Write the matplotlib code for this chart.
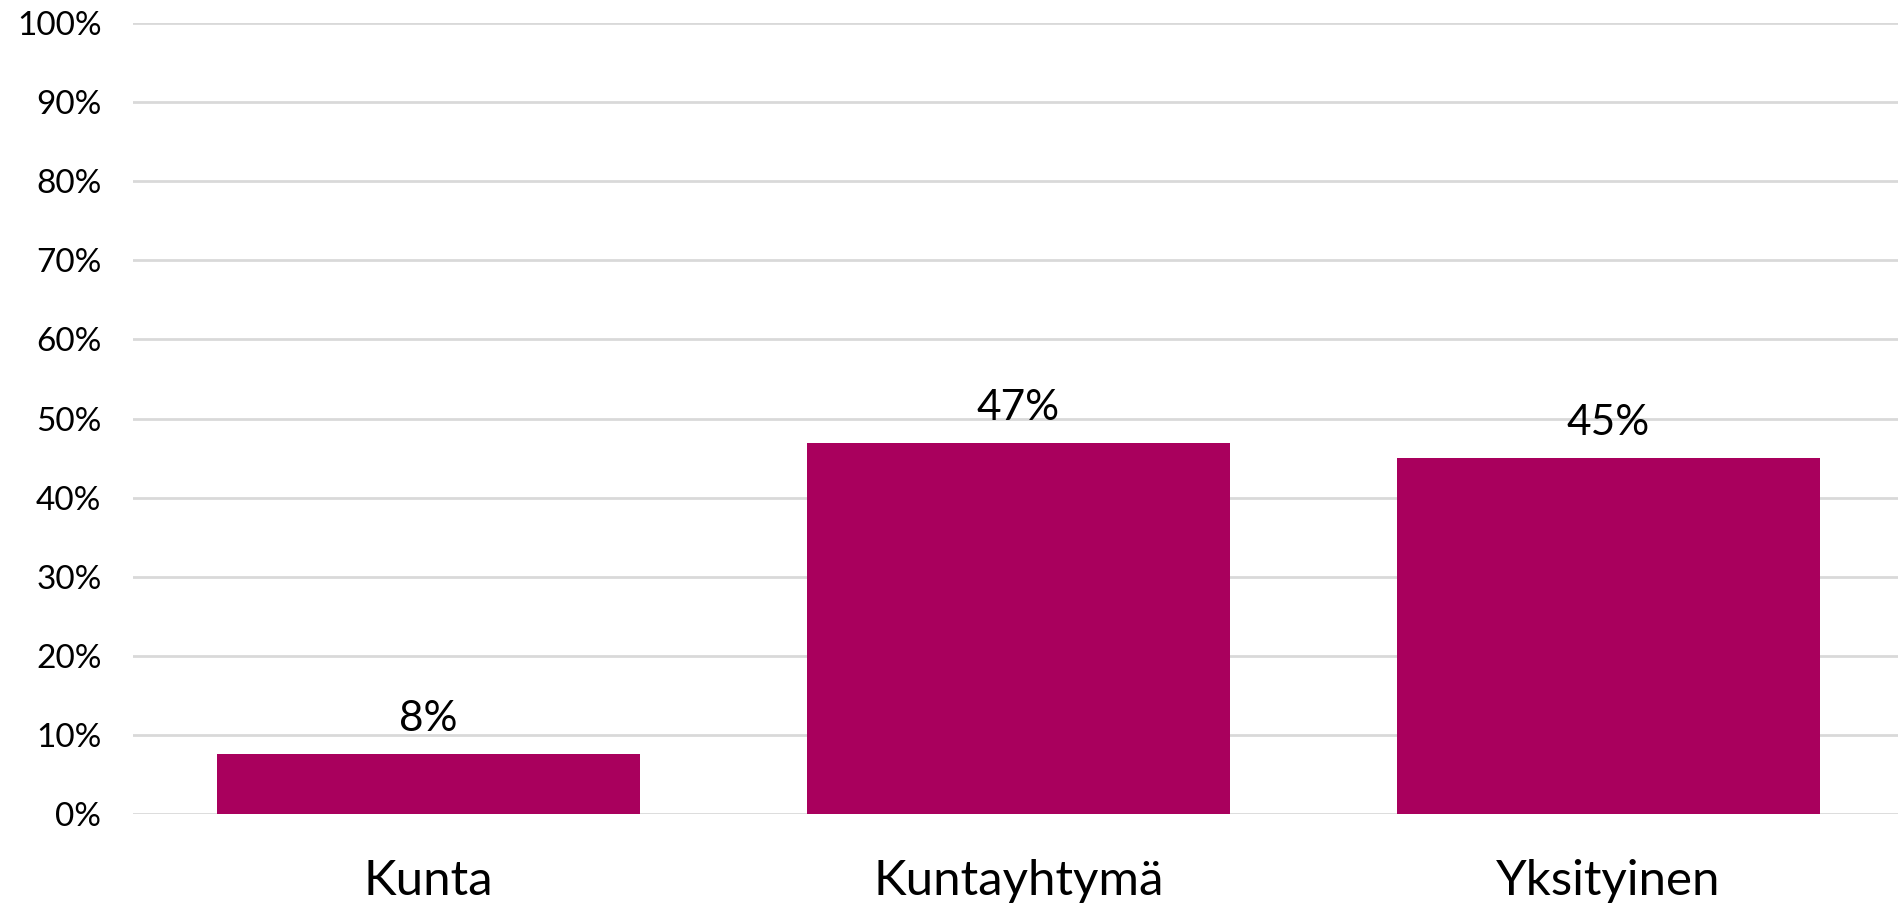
import matplotlib
matplotlib.use("Agg")
import matplotlib.pyplot as plt
from matplotlib.ticker import PercentFormatter

categories = ["Kunta", "Kuntayhtymä", "Yksityinen"]
values = [7.6, 46.9, 45.0]
labels = ["8%", "47%", "45%"]
yticks = [0, 10, 20, 30, 40, 50, 60, 70, 80, 90, 100]

plt.rcParams['font.family'] = ['Lato', 'DejaVu Sans']

fig = plt.figure(figsize=(18.98, 9.10), dpi=100)
ax = fig.add_axes([0.0703, 0.105, 0.9326, 0.870])

x = range(len(categories))
bars = ax.bar(x, values, width=0.717, color="#A9005D", zorder=3)
for xi, v, lab in zip(x, values, labels):
    ax.text(xi, v + 2.0, lab, ha="center", va="bottom", fontsize=30.5, color="black")

ax.set_xlim(-0.5, 2.5)
ax.set_ylim(0, 100)
ax.set_yticks(yticks)
ax.yaxis.set_major_formatter(PercentFormatter(decimals=0))
ax.set_xticks(list(x))
ax.set_xticklabels(categories, fontsize=35.5)
ax.tick_params(axis="y", labelsize=24, length=0, pad=23)
ax.tick_params(axis="x", length=0, pad=32)
ax.grid(axis="y", color="#d9d9d9", linewidth=2, zorder=0)
for s in ax.spines.values():
    s.set_visible(False)

fig.savefig("out.png", dpi=100)
